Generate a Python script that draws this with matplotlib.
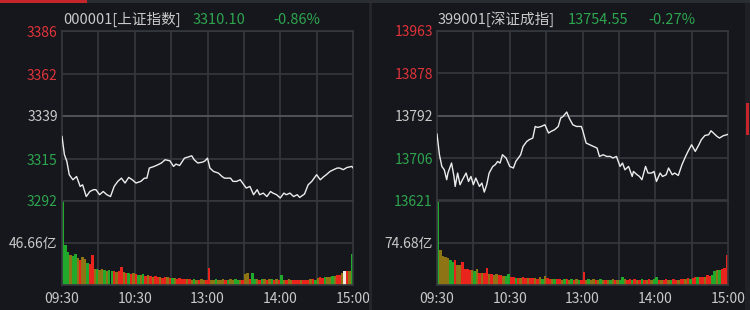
import matplotlib.pyplot as plt
from matplotlib.patches import Rectangle

plt.rcParams['font.family'] = ['Noto Sans CJK SC', 'DejaVu Sans']

W, H = 750, 310
BG = '#15171c'
GRID = '#35383d'
MID = '#595c61'
RED = '#e0333a'
GREEN = '#2ea44f'
TXT = '#c9c9c9'

time_ticks = [0, 60, 120, 180, 240]
time_labels = ['09:30', '10:30', '13:00', '14:00', '15:00']
time_grid = [30, 60, 90, 120, 150, 180, 210]

# ---- 上证指数 ----
sh_title = '000001[上证指数]'
sh_last = '3310.10'
sh_pct = '-0.86%'
sh_levels = [3386, 3362, 3339, 3315, 3292]
sh_vol_mid = 46.66
sh_min = [0, 2, 4, 6, 9, 12, 15, 17, 20, 23, 26, 28, 31, 34, 37, 40, 43, 46, 49, 52,
          55, 58, 61, 65, 68, 70, 72, 76, 79, 82, 85, 89, 92, 94, 97, 101, 104, 107, 109, 112,
          116, 118, 120, 122, 125, 129, 132, 134, 139, 141, 144, 147, 150, 152, 155, 158, 161, 163, 166, 169,
          172, 174, 177, 180, 183, 185, 188, 191, 194, 196, 200, 203, 206, 210, 213, 216, 218, 221, 224, 227,
          229, 232, 235, 239, 240]
sh_price = [3327.5, 3317.4, 3313.7, 3306.3, 3303.5, 3305.3, 3299.8, 3300.7, 3294.2, 3297.0,
            3298.0, 3298.0, 3295.2, 3297.0, 3295.2, 3294.2, 3299.8, 3302.6, 3304.4, 3301.7,
            3304.8, 3303.5, 3301.7, 3302.6, 3304.4, 3304.4, 3310.0, 3310.9, 3311.8, 3312.8,
            3314.6, 3314.0, 3310.9, 3312.2, 3311.4, 3315.5, 3316.1, 3316.8, 3314.6, 3312.8,
            3313.3, 3314.0, 3315.5, 3310.0, 3308.1, 3307.2, 3305.3, 3304.4, 3304.4, 3302.6,
            3302.6, 3303.5, 3300.7, 3298.9, 3299.8, 3295.2, 3298.0, 3295.2, 3296.1, 3294.2,
            3297.0, 3296.1, 3295.2, 3293.4, 3296.1, 3295.2, 3296.1, 3294.2, 3295.2, 3293.7,
            3295.6, 3300.7, 3302.6, 3306.3, 3303.5, 3305.3, 3306.3, 3308.1, 3309.1, 3310.0,
            3310.0, 3309.1, 3310.3, 3310.9, 3310.1]
sh_vol = [93, 44, 36, 33, 32, 34, 30, 28, 31, 29,
          24, 23, 33, 18, 18, 17, 18, 17, 16, 17,
          15, 15, 14, 15, 20, 14, 13, 13, 12, 13,
          12, 11, 11, 12, 10, 11, 10, 9, 10, 9,
          9, 8, 9, 9, 8, 8, 8, 7, 8, 7,
          7, 7, 7, 6, 7, 6, 6, 7, 6, 6,
          19, 6, 6, 7, 6, 6, 7, 6, 6, 7,
          6, 7, 6, 6, 6, 12, 13, 7, 13, 7,
          7, 6, 7, 7, 6, 7, 7, 6, 7, 6,
          11, 6, 6, 7, 6, 6, 6, 5, 6, 6,
          6, 6, 7, 7, 6, 8, 9, 8, 9, 9,
          9, 10, 10, 11, 11, 13, 15, 15, 16, 18,
          34]
sh_col = ('gggoggoroo' 'grrogoogog' 'grorrorgro' 'rgogrororr' 'orrorgorrr' 'rorogoroor'
          'roogooorgo' 'oggoroorgg' 'orgorogror' 'goroorrror' 'rrorgorrgo' 'ogorrowror' 'g')

# ---- 深证成指 ----
sz_title = '399001[深证成指]'
sz_last = '13754.55'
sz_pct = '-0.27%'
sz_levels = [13963, 13878, 13792, 13706, 13621]
sz_vol_mid = 74.68
sz_min = [0, 2, 4, 6, 8, 9, 12, 14, 15, 17, 19, 21, 24, 26, 28, 30, 32, 35, 37, 39,
          41, 43, 46, 48, 50, 52, 54, 57, 60, 63, 65, 69, 71, 74, 76, 79, 81, 83, 86, 89,
          92, 94, 97, 100, 102, 104, 107, 109, 112, 115, 119, 120, 123, 126, 129, 132, 134, 137, 140, 143,
          145, 148, 151, 153, 155, 158, 161, 162, 165, 167, 169, 172, 174, 177, 179, 181, 184, 186, 189, 191,
          194, 196, 199, 202, 205, 207, 210, 213, 216, 218, 221, 224, 226, 228, 231, 233, 236, 239, 240]
sz_price = [13755.1, 13713.3, 13689.7, 13683.0, 13662.9, 13676.4, 13696.6, 13669.5, 13649.3, 13676.4,
            13652.8, 13662.9, 13676.4, 13659.4, 13669.5, 13652.8, 13666.3, 13649.3, 13656.2, 13638.0,
            13652.8, 13676.4, 13689.7, 13693.1, 13699.8, 13696.6, 13713.3, 13706.7, 13689.7, 13686.5,
            13699.8, 13713.3, 13730.1, 13740.1, 13743.6, 13747.0, 13770.4, 13768.4, 13770.4, 13773.8,
            13757.1, 13760.3, 13763.8, 13770.4, 13787.4, 13790.6, 13799.5, 13787.4, 13773.8, 13770.4,
            13770.4, 13763.8, 13736.9, 13733.5, 13730.1, 13726.8, 13709.9, 13713.3, 13709.9, 13709.9,
            13706.7, 13709.9, 13689.7, 13696.6, 13683.0, 13689.7, 13669.5, 13679.6, 13673.0, 13669.5,
            13662.9, 13689.7, 13676.4, 13676.4, 13679.6, 13659.4, 13676.4, 13669.5, 13673.0, 13686.5,
            13673.0, 13676.4, 13671.5, 13693.1, 13709.9, 13720.0, 13733.5, 13720.0, 13733.5, 13743.6,
            13752.3, 13753.7, 13761.7, 13757.1, 13750.2, 13747.0, 13751.6, 13753.7, 13754.55]
sz_vol = [149, 62, 52, 50, 48, 44, 40, 44, 36, 35,
          41, 29, 28, 27, 26, 25, 28, 22, 21, 21,
          30, 19, 19, 18, 19, 17, 17, 16, 16, 20,
          15, 14, 13, 13, 13, 14, 13, 12, 13, 12,
          12, 11, 14, 11, 16, 12, 10, 10, 11, 10,
          10, 9, 10, 11, 9, 10, 9, 10, 9, 9,
          23, 9, 10, 9, 10, 9, 9, 10, 9, 9,
          9, 9, 10, 9, 9, 9, 14, 10, 9, 10,
          9, 10, 9, 9, 10, 9, 9, 10, 9, 10,
          15, 9, 9, 9, 10, 9, 9, 10, 9, 9,
          10, 11, 10, 12, 11, 13, 14, 15, 14, 15,
          15, 17, 16, 18, 24, 26, 27, 28, 30, 26,
          53]
sz_col = ('gooooggroo' 'rrrrogoror' 'roroorrogg' 'rrgrorrorr' 'orogorrogr' 'rogrogrogr'
          'rogoorogor' 'ogoroggorr' 'grorgrorog' 'grorrogrro' 'rrorgrrgrr' 'orrggogrro' 'r')

vol_min = list(range(0, 241, 2))
bar_colors = {'r': '#e8241d', 'g': '#22a82a', 'o': '#8e7414', 'w': '#f3e9dc'}

fig = plt.figure(figsize=(7.5, 3.1), dpi=100, facecolor=BG)


def box(x0, y0, x1, y1):
    return [x0 / W, 1 - y1 / H, (x1 - x0) / W, (y1 - y0) / H]


def rect(x0, y0, x1, y1, color):
    fig.add_artist(Rectangle((x0 / W, 1 - y1 / H), (x1 - x0) / W, (y1 - y0) / H,
                             transform=fig.transFigure, color=color, lw=0))


def panel(x0, title, last, pct, levels, mins, prices, vols, cols, vol_mid):
    x1 = x0 + 291
    axp = fig.add_axes(box(x0, 31, x1, 200.5))
    axv = fig.add_axes(box(x0, 200.5, x1, 285))
    for ax in (axp, axv):
        ax.set_facecolor(BG)
        ax.set_xlim(0, 240)
        for s in ax.spines.values():
            s.set_color(GRID)
            s.set_linewidth(1.2)
        for m in time_grid:
            ax.axvline(m, color=GRID, lw=1.2, zorder=0)
        ax.tick_params(length=0, labelsize=10)

    axp.set_ylim(levels[-1], levels[0])
    for i, v in enumerate(levels):
        axp.axhline(v, color=MID if i == 2 else GRID, lw=1.2, zorder=0)
    axp.set_yticks(levels, [str(v) for v in levels])
    for lab, c in zip(axp.get_yticklabels(), [RED, RED, TXT, GREEN, GREEN]):
        lab.set_color(c)
    axp.tick_params(axis='y', pad=3)
    axp.set_xticks([])
    axp.plot(mins, prices, color='#ececec', lw=1.0, zorder=3)

    # bars start at their minute; the 15:00 bar is drawn leftwards so it stays inside
    widths = [2.0] * (len(vol_min) - 1) + [-2.0]
    axv.set_ylim(0, 2 * vol_mid)
    axv.axhline(vol_mid, color=GRID, lw=1.2, zorder=0)
    axv.bar(vol_min, vols, width=widths, align='edge',
            color=[bar_colors[c] for c in cols], lw=0, zorder=2)
    axv.set_yticks([vol_mid], [f'{vol_mid}亿'], color=TXT)
    axv.tick_params(axis='y', pad=3)
    axv.set_xticks(time_ticks, time_labels, color=TXT)
    axv.tick_params(axis='x', pad=5)

    ty = 1 - 19.5 / H
    fig.text((x0 + 1) / W, ty, title, color=TXT, fontsize=10.5, va='center')
    fig.text((x0 + 131) / W, ty, last, color=GREEN, fontsize=10.5, va='center')
    fig.text((x0 + 211) / W, ty, pct, color=GREEN, fontsize=10.5, va='center')


panel(62, sh_title, sh_last, sh_pct, sh_levels, sh_min, sh_price, sh_vol, sh_col, sh_vol_mid)
panel(437, sz_title, sz_last, sz_pct, sz_levels, sz_min, sz_price, sz_vol, sz_col, sz_vol_mid)

# window chrome
rect(0, 0, 87, 3, '#c4262c')
rect(87, 0, 750, 3, '#2a2d32')
rect(369, 3, 372, 310, '#22252a')
rect(745, 3, 750, 310, '#1e2025')
rect(746, 103, 749, 135, '#c4262c')

fig.savefig('out.png', dpi=100, facecolor=BG)
